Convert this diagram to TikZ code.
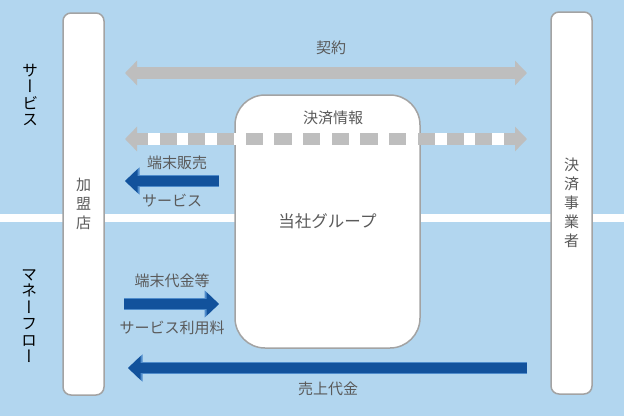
\documentclass[tikz,border=0pt]{standalone}
\usepackage{fontspec}
\newfontfamily\jp{Noto Sans CJK JP}
\newfontfamily\jpv[RawFeature=+vert]{Noto Sans CJK JP}
\usetikzlibrary{arrows.meta, positioning, calc}
\definecolor{bgblue}{HTML}{B2D6EF}
\definecolor{boxline}{HTML}{A3A3A3}
\definecolor{arrgray}{HTML}{BEBEBE}
\definecolor{arrblue}{HTML}{12529C}
\definecolor{arredge}{HTML}{4F8CCB}
\definecolor{txtgray}{HTML}{5A5A5A}
\tikzset{%
	party/.style={draw=boxline, line width=1.5pt, fill=white, rectangle, rounded corners=8pt,%
		minimum width=41pt, minimum height=382pt, inner sep=0pt, align=center,%
		font=\jp\fontsize{15}{19}\selectfont, text=txtgray},
	group/.style={draw=boxline, line width=1.5pt, fill=white, rectangle, rounded corners=30pt,%
		minimum width=185pt, minimum height=253pt, font=\jp\fontsize{16.5}{20}\selectfont, text=txtgray},
	lbl/.style={text=txtgray, font=\jp\fontsize{15}{19}\selectfont, inner sep=0pt},
	side/.style={font=\jpv\fontsize{16}{16.5}\selectfont, align=center, inner sep=0pt},
	grayarrow/.style={arrgray, line width=12pt, {Triangle[width=24pt, length=12pt]}-{Triangle[width=24pt, length=12pt]}},
	gaps/.style={white, line width=12.5pt, dash pattern=on 11.5pt off 17.2pt},
	bluearrow/.style={arrblue, line width=10pt, -{Triangle[width=23pt, length=12.5pt]},%
		preaction={draw=arredge, line width=12pt, -{Triangle[width=26.5pt, length=14.5pt]}}}
}

\begin{document}
\begin{tikzpicture}[x=1pt, y=-1pt]
	% background
	\fill[bgblue] (0,0) rectangle (624,416);
	\fill[white] (0,214) rectangle (624,222);
	\useasboundingbox (0,0) rectangle (624,416);

	\node[party] (store) at (83.5,204) {加\\盟\\店};
	\node[party] (payer) at (571.5,203) {決\\済\\事\\業\\者};
	\node[group] (company) at (327.5,221.5) {当社グループ};

	\node[side] (service) at (30,95) {サ\\ー\\ビ\\ス};
	\node[side] (money) at (29,316) {マ\\ネ\\ー\\フ\\ロ\\ー};

	% arrow ends
	\coordinate (contractL) at (125,73);
	\coordinate (contractR) at (527,73);
	\coordinate (infoL) at (125,139);
	\coordinate (infoR) at (527,139);
	\coordinate (saleA) at (219,181);
	\coordinate (saleB) at (125,181);
	\coordinate (feeA) at (124,304);
	\coordinate (feeB) at (219,304);
	\coordinate (payA) at (527,368);
	\coordinate (payB) at (128,368);

	\draw[grayarrow] (contractL) -- (contractR);
	\node[lbl] (contract) at (331,48) {契約};

	\draw[grayarrow] (infoL) -- (infoR);
	\draw[gaps] (148,139) -- (504,139);
	\node[lbl] (info) at (333,118) {決済情報};

	\draw[bluearrow] (saleA) -- (saleB);
	\node[lbl] (sale) at (177,163) {端末販売};
	\node[lbl] (saleserv) at (172,201) {サービス};

	\draw[bluearrow] (feeA) -- (feeB);
	\node[lbl] (fee) at (172,281) {端末代金等};
	\node[lbl] (feeserv) at (172,328) {サービス利用料};

	\draw[bluearrow] (payA) -- (payB);
	\node[lbl] (pay) at (328,389) {売上代金};
\end{tikzpicture}
\end{document}
